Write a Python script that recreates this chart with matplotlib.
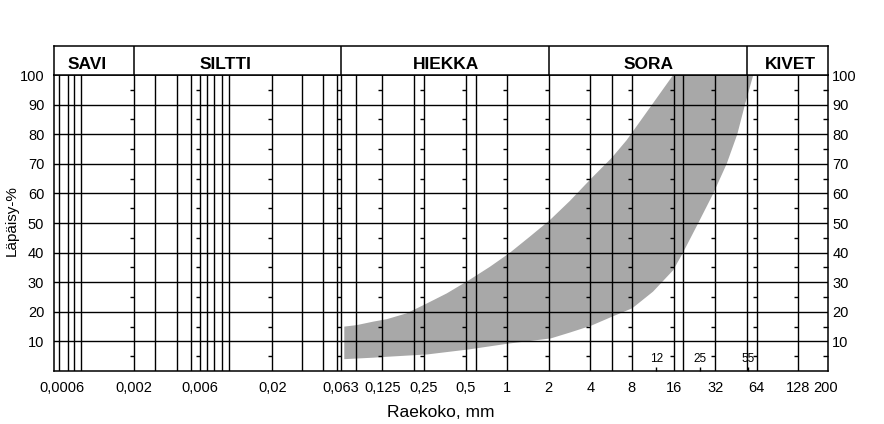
import numpy as np
import matplotlib.pyplot as plt
from matplotlib.ticker import NullLocator

plt.rcParams['font.family'] = ['Liberation Sans', 'DejaVu Sans']

# x-akselin merkityt raekoot (mm)
tick_sizes = [0.0006, 0.002, 0.006, 0.02, 0.063, 0.125, 0.25, 0.5, 1, 2, 4, 8, 16, 32, 64, 128, 200]
tick_labels = ['0,0006', '0,002', '0,006', '0,02', '0,063', '0,125', '0,25', '0,5',
               '1', '2', '4', '8', '16', '32', '64', '128', '200']

# muut pystyviivat (luettu kuvasta)
extra_lines = [0.000575, 0.000661, 0.000734, 0.000829, 0.00284, 0.00406, 0.00513,
               0.0067, 0.00753, 0.00865, 0.00976, 0.0326, 0.0463, 0.0584, 0.0802,
               0.212, 0.592, 5.71, 18.8, 54.3]

# lajitteet otsikkorivillä
frac_names = ['SAVI', 'SILTTI', 'HIEKKA', 'SORA', 'KIVET']
frac_limits = [0.002, 0.063, 2, 54.3]
frac_label_at = [0.00092, 0.0092, 0.36, 10.5, 113]

# pienet merkinnät alareunassa
small_marks = [12, 25, 55]

# ohjealueen rajat (raekoko mm, läpäisy %)
upper_size = [0.0663, 0.0815, 0.108, 0.1345, 0.188, 0.2645, 0.365, 0.53, 0.75,
              1.037, 1.46, 2.04, 2.85, 4.05, 5.71, 7.33, 10.8, 15.9]
upper_pass = [15.0, 15.5, 16.7, 17.5, 19.5, 22.9, 26.2, 30.7, 35.2,
              39.8, 45.4, 51.0, 57.5, 65.0, 72.0, 78.0, 89.0, 100]
lower_size = [0.0663, 0.1076, 0.1345, 0.2645, 0.53, 1.037, 2.067, 2.85, 4.05, 5.71,
              8.05, 11.36, 15.94, 18.74, 24.17, 31.05, 38.8, 46.3, 52.6, 60.4]
lower_pass = [4.0, 4.5, 4.8, 5.6, 7.3, 9.3, 11.0, 13.0, 15.3, 18.3,
              21.2, 26.8, 34.1, 40.0, 50.0, 60.0, 70.0, 80.0, 90.0, 100]

fig = plt.figure(figsize=(8.84, 4.24), dpi=100)
ax = fig.add_axes([0.0611, 0.125, 0.8756, 0.6981])
ax.set_xscale('log')
ax.set_xlim(0.000526, 210)
ax.set_ylim(0, 100)

# harmaa alue
ax.fill(upper_size + lower_size[::-1], upper_pass + lower_pass[::-1],
        color='#a8a8a8', lw=0, zorder=1)

# ruudukko
for y in range(10, 100, 10):
    ax.axhline(y, color='black', lw=1.0, zorder=2)
for x in tick_sizes[1:-1] + extra_lines:
    ax.axvline(x, color='black', lw=1.0, zorder=2)

# pienet väliviivat 5, 15, ... 95
mids = np.arange(5, 100, 10)
for x in tick_sizes[1:-1]:
    ax.plot([x] * len(mids), mids, ls='none', marker=0, ms=3, mew=1.0,
            color='black', zorder=3)

# 12, 25, 55
ax.plot(small_marks, [0] * len(small_marks), ls='none', marker=2, ms=3, mew=1.0,
        color='black', zorder=3)
for s in small_marks:
    ax.text(s, 4.0, str(s), ha='center', va='center', fontsize=8.5, zorder=4)

ax.set_xticks(tick_sizes, tick_labels)
ax.xaxis.set_minor_locator(NullLocator())
ax.tick_params(axis='x', length=0, pad=7, labelsize=10.5)
ax.set_yticks(range(10, 101, 10))
ax.tick_params(axis='y', length=0, pad=7, labelsize=10.5)
for s in ax.spines.values():
    s.set_linewidth(1.1)

# oikea puoli
ax2 = ax.twinx()
ax2.set_ylim(0, 100)
ax2.set_yticks(range(10, 101, 10))
ax2.set_yticks(mids, minor=True)
ax2.tick_params(axis='y', which='major', length=0, pad=3, labelsize=10.5)
ax2.tick_params(axis='y', which='minor', direction='in', length=3.5, width=1.0)
for s in ax2.spines.values():
    s.set_visible(False)

# otsikkorivi
axh = fig.add_axes([0.0611, 0.8231, 0.8756, 0.0684])
axh.set_xscale('log')
axh.set_xlim(0.000526, 210)
axh.set_ylim(0, 1)
axh.xaxis.set_major_locator(NullLocator())
axh.xaxis.set_minor_locator(NullLocator())
axh.set_yticks([])
for s in axh.spines.values():
    s.set_linewidth(1.1)
for x in frac_limits:
    axh.axvline(x, color='black', lw=1.1)
for name, x in zip(frac_names, frac_label_at):
    axh.text(x, 0.2, name, ha='center', va='baseline', fontsize=12.5, fontweight='bold')

fig.text(0.499, 0.026, 'Raekoko, mm', ha='center', va='center', fontsize=12.5)
fig.text(0.0136, 0.48, 'Läpäisy-%', ha='center', va='center', rotation=90, fontsize=11)

fig.savefig('out.png', dpi=100)
